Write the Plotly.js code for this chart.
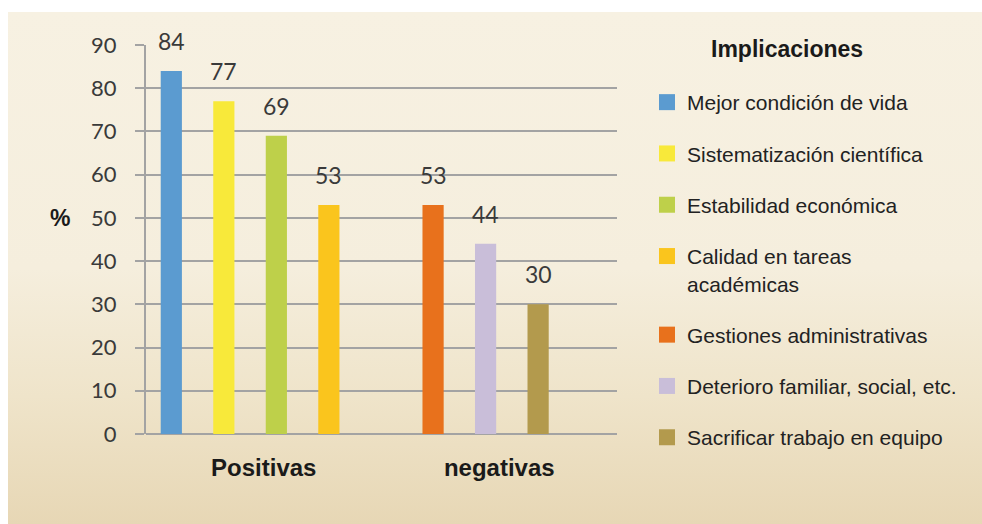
<!DOCTYPE html>
<html><head><meta charset="utf-8">
<script src="https://cdn.plot.ly/plotly-3.0.1.min.js"></script>
<style>
html,body{margin:0;padding:0;background:#fff;}
#wrap{position:relative;width:982px;height:524px;background:#fff;overflow:hidden;}
#panel{position:absolute;left:8px;top:12px;right:0;bottom:0;
  background:linear-gradient(to bottom,#f7f1e2 0%,#f5eedd 50%,#efe4ca 75%,#e7d7b5 100%);}
#chart{position:absolute;left:0;top:0;width:982px;height:524px;}
</style></head>
<body><div id="wrap"><div id="panel"></div><div id="chart"></div></div>
<script>
// ---- data ----
const categories = ['Positivas', 'negativas'];
const legendTitle = 'Implicaciones';
const seriesNames = [
  'Mejor condición de vida',
  'Sistematización científica',
  'Estabilidad económica',
  'Calidad en tareas<br>académicas',
  'Gestiones administrativas',
  'Deterioro familiar, social, etc.',
  'Sacrificar trabajo en equipo'
];
const seriesCategory = ['Positivas', 'Positivas', 'Positivas', 'Positivas', 'negativas', 'negativas', 'negativas'];
const seriesValues = [84, 77, 69, 53, 53, 44, 30];
const seriesColors = ['#5b9bd0', '#f8e93a', '#bed04a', '#fac51d', '#e8711c', '#c9bed9', '#b39a4d'];
const yTicks = [0, 10, 20, 30, 40, 50, 60, 70, 80, 90];

// ---- layout helpers (styles) ----
const barWidth = 0.09, slotSpacing = 0.223, groupShift = -0.058;
const numFont = 'Lato, "Open Sans", sans-serif';
const txtFont = 'Arial, "Liberation Sans", sans-serif';
const gridColor = '#a3a3a3';

const traces = [];
const annotations = [];
seriesNames.forEach((name, i) => {
  const cat = seriesCategory[i];
  const members = seriesCategory.map((c, j) => c === cat ? j : -1).filter(j => j >= 0);
  const n = members.length;
  const slot = members.indexOf(i);
  const rel = groupShift + (slot - (n - 1) / 2) * slotSpacing;
  traces.push({
    type: 'bar', x: [cat], y: [seriesValues[i]], name: name,
    width: barWidth, offset: rel - barWidth / 2,
    marker: {color: seriesColors[i]}, showlegend: false, hoverinfo: 'skip'
  });
  // legend entry (larger square swatch)
  traces.push({
    type: 'scatter', mode: 'markers', x: [cat], y: [null], name: name,
    legendgroup: 'g' + i,
    marker: {symbol: 'square', size: 16, color: seriesColors[i]}, hoverinfo: 'skip'
  });
  annotations.push({
    x: categories.indexOf(cat) + rel, y: seriesValues[i], xref: 'x', yref: 'y',
    text: String(seriesValues[i]), showarrow: false, yanchor: 'bottom', yshift: 14,
    font: {family: numFont, size: 23, color: '#3a3a3a'}
  });
});
annotations.push({
  xref: 'paper', yref: 'paper', x: -0.182, y: 0.555, text: '<b>%</b>', showarrow: false,
  xanchor: 'center', yanchor: 'middle',
  font: {family: txtFont, size: 23, color: '#1a1a1a'}
});
annotations.push({
  xref: 'paper', yref: 'paper', x: 1.361, y: 0.9897, text: '<b>' + legendTitle + '</b>', showarrow: false,
  xanchor: 'center', yanchor: 'middle',
  font: {family: txtFont, size: 23, color: '#1a1a1a'}
});

const layout = {
  width: 982, height: 524,
  margin: {l: 146, r: 365, t: 45, b: 90},
  paper_bgcolor: 'rgba(0,0,0,0)', plot_bgcolor: 'rgba(0,0,0,0)',
  barmode: 'overlay',
  xaxis: {
    type: 'category', categoryarray: categories, range: [-0.5, 1.5],
    showgrid: false, zeroline: false, showline: false, ticks: '',
    tickfont: {family: txtFont, size: 24, color: '#1a1a1a', weight: 'bold'},
    ticklabelstandoff: 17
  },
  yaxis: {
    range: [0, 90], tickvals: yTicks, ticktext: yTicks.map(String),
    showgrid: true, gridcolor: gridColor, gridwidth: 2,
    zeroline: true, zerolinecolor: gridColor, zerolinewidth: 2,
    showline: true, linecolor: gridColor, linewidth: 2,
    ticks: 'outside', ticklen: 9, tickwidth: 2, tickcolor: gridColor,
    tickfont: {family: numFont, size: 22, color: '#3a3a3a'}, ticklabelstandoff: 14
  },
  legend: {
    x: 1.0637, xanchor: 'left', y: 0.9049, yanchor: 'top', maxheight: 600,
    bgcolor: 'rgba(0,0,0,0)', valign: 'top', tracegroupgap: 21, itemsizing: 'trace',
    font: {family: txtFont, size: 21, color: '#222'}
  },
  annotations: annotations,
  showlegend: true
};
Plotly.newPlot('chart', traces, layout, {displayModeBar: false, staticPlot: true});
</script>
</body></html>
